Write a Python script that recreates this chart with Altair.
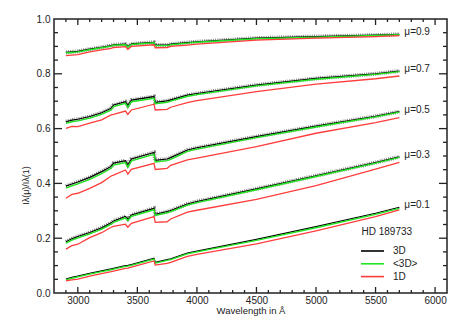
import altair as alt
import pandas as pd

wavelength = [2900, 2950, 3000, 3100, 3200, 3280, 3300, 3400, 3420, 3450,
              3640, 3650, 3750, 3780, 3920, 4000, 4500, 5000, 5500, 5700]

mu_values = ["0.9", "0.7", "0.5", "0.3", "0.1"]

# 3D
i3d_09 = [0.878, 0.880, 0.882, 0.890, 0.897, 0.903, 0.906, 0.908, 0.899, 0.909, 0.915, 0.905, 0.905, 0.908, 0.914, 0.917, 0.930, 0.936, 0.941, 0.944]
i3d_07 = [0.625, 0.631, 0.634, 0.644, 0.658, 0.674, 0.686, 0.698, 0.684, 0.704, 0.717, 0.696, 0.701, 0.705, 0.722, 0.728, 0.759, 0.783, 0.800, 0.810]
i3d_05 = [0.390, 0.398, 0.405, 0.422, 0.443, 0.462, 0.474, 0.483, 0.467, 0.489, 0.513, 0.484, 0.489, 0.494, 0.522, 0.530, 0.571, 0.609, 0.645, 0.662]
i3d_03 = [0.187, 0.198, 0.206, 0.221, 0.238, 0.256, 0.263, 0.279, 0.270, 0.285, 0.309, 0.287, 0.297, 0.301, 0.325, 0.334, 0.380, 0.428, 0.476, 0.497]
i3d_01 = [0.051, 0.057, 0.062, 0.072, 0.081, 0.088, 0.090, 0.100, 0.101, 0.104, 0.127, 0.112, 0.122, 0.125, 0.146, 0.153, 0.196, 0.242, 0.291, 0.313]

# <3D>
iav_09 = [0.876, 0.878, 0.880, 0.888, 0.895, 0.901, 0.904, 0.906, 0.897, 0.907, 0.913, 0.903, 0.903, 0.906, 0.912, 0.915, 0.928, 0.934, 0.940, 0.943]
iav_07 = [0.619, 0.625, 0.628, 0.638, 0.652, 0.668, 0.680, 0.692, 0.678, 0.698, 0.711, 0.691, 0.696, 0.700, 0.718, 0.724, 0.756, 0.780, 0.798, 0.808]
iav_05 = [0.383, 0.391, 0.398, 0.415, 0.436, 0.455, 0.467, 0.476, 0.460, 0.482, 0.506, 0.478, 0.483, 0.488, 0.517, 0.525, 0.567, 0.606, 0.643, 0.660]
iav_03 = [0.182, 0.193, 0.201, 0.216, 0.233, 0.251, 0.258, 0.274, 0.265, 0.280, 0.304, 0.283, 0.293, 0.297, 0.321, 0.330, 0.377, 0.425, 0.474, 0.495]
iav_01 = [0.048, 0.054, 0.059, 0.069, 0.078, 0.085, 0.087, 0.097, 0.098, 0.101, 0.124, 0.109, 0.119, 0.122, 0.143, 0.150, 0.192, 0.238, 0.287, 0.309]

# 1D
i1d_09 = [0.866, 0.868, 0.870, 0.880, 0.887, 0.893, 0.896, 0.899, 0.889, 0.900, 0.906, 0.895, 0.896, 0.900, 0.905, 0.908, 0.923, 0.930, 0.936, 0.939]
i1d_07 = [0.601, 0.608, 0.607, 0.620, 0.632, 0.650, 0.652, 0.664, 0.652, 0.668, 0.689, 0.668, 0.670, 0.678, 0.695, 0.702, 0.735, 0.762, 0.782, 0.792]
i1d_05 = [0.346, 0.360, 0.364, 0.382, 0.403, 0.427, 0.430, 0.449, 0.434, 0.451, 0.473, 0.451, 0.455, 0.466, 0.486, 0.492, 0.534, 0.583, 0.622, 0.640]
i1d_03 = [0.160, 0.173, 0.178, 0.202, 0.220, 0.240, 0.243, 0.251, 0.240, 0.254, 0.279, 0.258, 0.260, 0.270, 0.295, 0.302, 0.342, 0.392, 0.452, 0.477]
i1d_01 = [0.044, 0.048, 0.051, 0.062, 0.071, 0.078, 0.080, 0.090, 0.091, 0.094, 0.117, 0.102, 0.108, 0.112, 0.134, 0.141, 0.179, 0.227, 0.279, 0.303]

series = {
    "3D": [i3d_09, i3d_07, i3d_05, i3d_03, i3d_01],
    "<3D>": [iav_09, iav_07, iav_05, iav_03, iav_01],
    "1D": [i1d_09, i1d_07, i1d_05, i1d_03, i1d_01],
}
legend_labels = ["3D", "<3D>", "1D"]
colors = {"3D": "#000000", "<3D>": "#22e622", "1D": "#ff3c3c"}
star_name = "HD 189733"

# axis tick values
x_major = [3000, 3500, 4000, 4500, 5000, 5500, 6000]
x_minor = [2900, 3100, 3200, 3300, 3400, 3600, 3700, 3800, 3900, 4100, 4200, 4300, 4400,
           4600, 4700, 4800, 4900, 5100, 5200, 5300, 5400, 5600, 5700, 5800, 5900]
y_major = [0.2, 0.4, 0.6, 0.8]
y_minor = [0.05, 0.1, 0.15, 0.25, 0.3, 0.35, 0.45, 0.5, 0.55, 0.65, 0.7, 0.75, 0.85, 0.9, 0.95]

rows = []
for model, lists in series.items():
    for mu, vals in zip(mu_values, lists):
        for w, v in zip(wavelength, vals):
            rows.append({"wavelength": w, "value": v, "mu": mu, "model": model})
df = pd.DataFrame(rows)

lab_df = pd.DataFrame({
    "wavelength": [wavelength[-1]] * len(mu_values),
    "value": [l[-1] for l in series["3D"]],
    "text": ["μ=" + m for m in mu_values],
})

W, H = 393, 274
XD = [2800, 6100]
YD = [0, 1]
xmaj, xmin_ = 6, 3      # tick lengths in px
ymaj, ymin_ = 8, 4
tick_col = "#222"

xaxis = alt.Axis(
    values=x_major, format="d", ticks=False, domain=False, grid=False,
    labelPadding=2, labelFontSize=10, labelColor="#222",
    labelFlush=False, labelOverlap=False,
    titleFontSize=9.5, titleFontWeight="normal", titleColor="#222",
    titleBaseline="middle", titleY=17.5,
)
yaxis = alt.Axis(
    values=[0, 0.2, 0.4, 0.6, 0.8, 1.0], format=".1f",
    ticks=False, domain=False, grid=False,
    labelPadding=4, labelFontSize=10, labelColor="#222",
    labelFlush=False, labelOverlap=False,
    titleFontSize=9, titleFontWeight="normal", titleColor="#222",
    titleX=-29, titleY=166, titleBaseline="middle", titleAlign="center",
)

xs = alt.Scale(domain=XD, nice=False, zero=False)
ys = alt.Scale(domain=YD, nice=False, zero=False)
X = alt.X("wavelength:Q", scale=xs, axis=xaxis, title="Wavelength in Å")
Y = alt.Y("value:Q", scale=ys, axis=yaxis, title="Iλ(μ)/Iλ(1)")

base = alt.Chart(df).encode(x=X, y=Y, detail="mu:N")

hatch = base.transform_filter("datum.model === '3D' && datum.mu !== '0.1'").mark_line(
    color="#8a8a8a", strokeWidth=4, strokeDash=[1, 1.2])
black = base.transform_filter("datum.model === '3D'").mark_line(
    color=colors["3D"], strokeWidth=1.2)
green = base.transform_filter("datum.model === '<3D>'").mark_line(
    color=colors["<3D>"], strokeWidth=1.4)
red = base.transform_filter("datum.model === '1D'").mark_line(
    color=colors["1D"], strokeWidth=1.3)

mu_text = alt.Chart(lab_df).mark_text(
    align="left", baseline="middle", dx=5, dy=-2, fontSize=10, color="#222"
).encode(x=X, y=Y, text="text:N")

# inward tick marks on all four sides
tick_layers = []
for vals, ln in [(x_major, xmaj), (x_minor, xmin_)]:
    tdf = pd.DataFrame({"tv": vals})
    for yv in [H - ln / 2, ln / 2]:
        tick_layers.append(
            alt.Chart(tdf).mark_tick(color=tick_col, thickness=1.3, size=ln, orient="vertical", opacity=1)
            .encode(x=alt.X("tv:Q", scale=xs, axis=xaxis, title="Wavelength in Å"),
                    y=alt.value(yv)))
for vals, ln in [(y_major, ymaj), (y_minor, ymin_)]:
    tdf = pd.DataFrame({"tv": vals})
    for xv in [ln / 2, W - ln / 2]:
        tick_layers.append(
            alt.Chart(tdf).mark_tick(color=tick_col, thickness=1.3, size=ln, orient="horizontal", opacity=1)
            .encode(y=alt.Y("tv:Q", scale=ys, axis=yaxis, title="Iλ(μ)/Iλ(1)"),
                    x=alt.value(xv)))

one = pd.DataFrame({"k": [0]})
legend_layers = [
    alt.Chart(one).mark_text(align="left", baseline="middle", fontSize=10, color="#222")
    .encode(x=alt.value(307.5), y=alt.value(213), text=alt.value(star_name))
]
for i, lab in enumerate(legend_labels):
    yy = 232 + i * 12.8
    legend_layers.append(
        alt.Chart(one).mark_rule(color=colors[lab], strokeWidth=1.6)
        .encode(x=alt.value(307), x2=alt.value(330), y=alt.value(yy)))
    legend_layers.append(
        alt.Chart(one).mark_text(align="left", baseline="middle", fontSize=10, color="#222")
        .encode(x=alt.value(339), y=alt.value(yy), text=alt.value(lab)))

chart = alt.layer(hatch, black, green, red, mu_text, *tick_layers, *legend_layers).properties(
    width=W, height=H,
    autosize=alt.AutoSizeParams(type="none"),
    padding={"left": 46, "top": 11, "right": 8, "bottom": 30},
).configure(font="Liberation Sans").configure_view(stroke="#222", strokeWidth=1.5)

chart.save("out.html", embed_options={"renderer": "svg", "actions": False})
